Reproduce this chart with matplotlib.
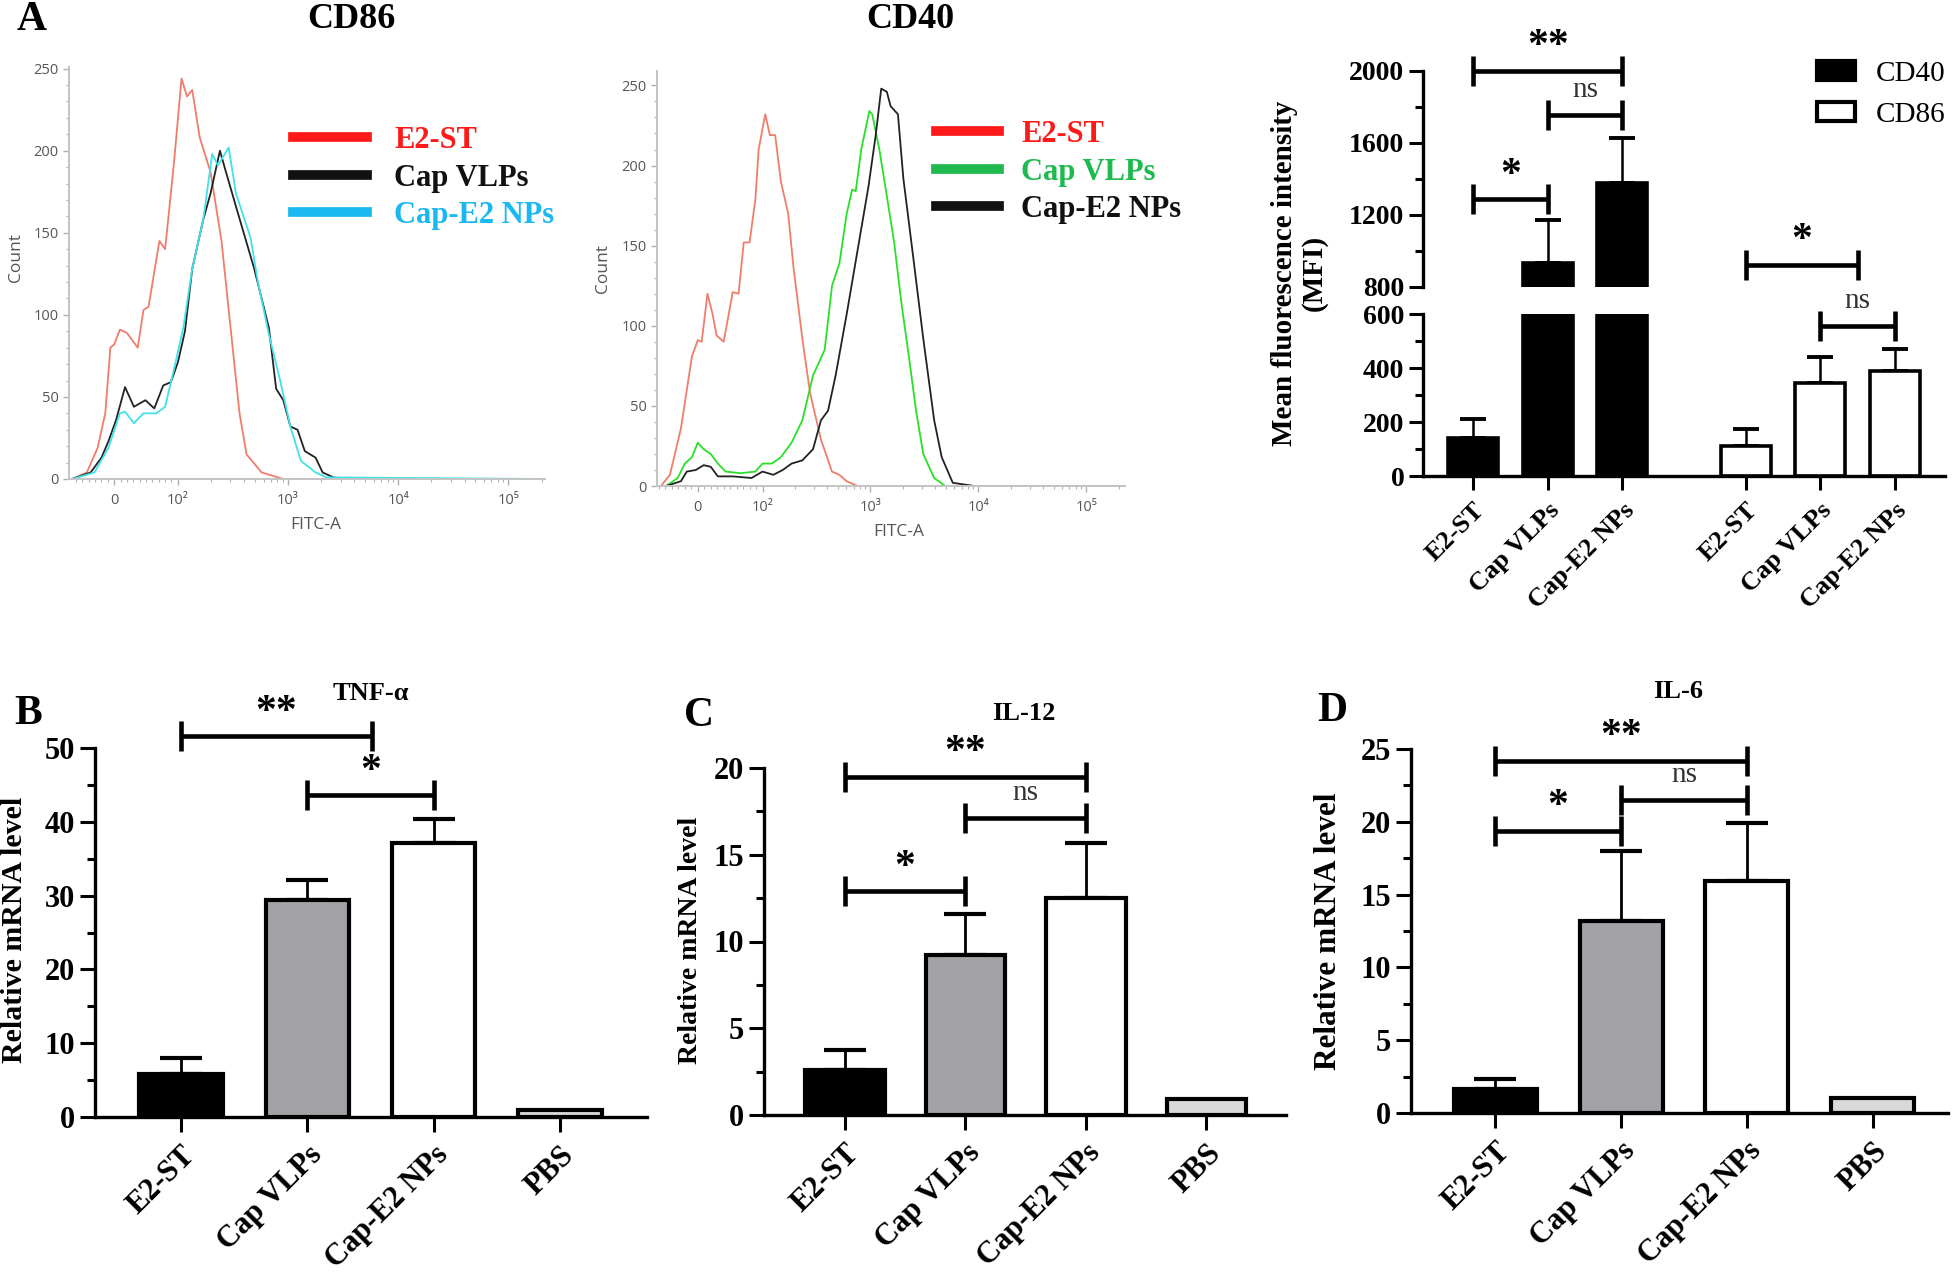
import numpy as np
import matplotlib
matplotlib.use('Agg')
import matplotlib.pyplot as plt
from matplotlib.lines import Line2D
from matplotlib.patches import Patch
from matplotlib.ticker import FixedLocator

plt.rcParams['font.family'] = 'Liberation Serif'

W, H = 1960, 1272

# ---------------- data ----------------
# flow histograms: FITC-A value, count
cd86_e2st_x = [-66, -43, -26, -14, -6, 0, 9, 20, 37, 46, 54, 71, 80, 94, 108, 121, 135, 158, 198,
               249, 312, 363, 420, 576, 906, 215000]
cd86_e2st_y = [0, 4, 19, 40, 80, 82, 91, 89, 80, 103, 105, 145, 140, 193, 244, 233, 237, 208, 187,
               145, 82, 40, 15, 4, 0, 0]
cd86_vlp_x = [-66, -37, -20, -9, 3, 17, 31, 49, 63, 77, 89, 100, 116, 135, 170, 198, 241, 268, 337,
              494, 671, 780, 906, 1050, 1220, 1420, 1780, 2060, 2580, 3480, 215000]
cd86_vlp_y = [0, 4, 13, 23, 36, 56, 44, 48, 43, 57, 59, 71, 90, 128, 158, 174, 200, 189, 166,
              128, 92, 55, 48, 32, 30, 17, 13, 4, 1, 0, 0]
cd86_np_x = [-66, -31, -9, 9, 17, 31, 46, 66, 80, 94, 112, 135, 170, 205, 231, 289, 337, 457, 533,
             671, 842, 1050, 1310, 1780, 2230, 215000]
cd86_np_y = [0, 4, 19, 40, 41, 34, 40, 40, 44, 67, 92, 128, 158, 198, 191, 202, 174, 147, 120,
             88, 61, 32, 11, 4, 1, 0]

cd40_e2st_x = [-57, -43, -26, -9, 0, 6, 15, 23, 29, 40, 54, 63, 71, 80, 89, 94, 106, 117, 131, 148,
               173, 194, 236, 276, 348, 440, 515, 602, 760, 229000]
cd40_e2st_y = [0, 7, 36, 81, 91, 90, 120, 107, 94, 90, 121, 120, 152, 152, 179, 210, 232, 219, 219, 190,
               170, 136, 90, 58, 29, 9, 7, 3, 0, 0]
cd40_vlp_x = [-49, -31, -20, -9, 0, 9, 20, 31, 43, 66, 89, 100, 122, 148, 186, 234, 294, 377, 441, 516,
              603, 677, 731, 822, 978, 1040, 1210, 1420, 1660, 1940, 2270, 2650, 3090, 3900, 4940, 229000]
cd40_vlp_y = [0, 5, 14, 18, 27, 23, 20, 14, 9, 8, 9, 14, 14, 18, 27, 41, 69, 85, 125, 139,
              170, 185, 184, 210, 234, 232, 210, 181, 152, 114, 81, 47, 20, 5, 0, 0]
cd40_np_x = [-49, -26, -17, -3, 9, 20, 31, 54, 83, 100, 126, 154, 186, 234, 294, 348, 405, 476, 602, 760,
             960, 1120, 1260, 1420, 1540, 1800, 2020, 2450, 3090, 3900, 4580, 5800, 9200, 229000]
cd40_np_y = [0, 3, 9, 10, 13, 12, 6, 6, 5, 9, 7, 10, 14, 16, 23, 41, 47, 69, 107, 147,
             187, 219, 248, 246, 237, 232, 192, 147, 92, 41, 18, 2, 0, 0]

hist_labels = ['E2-ST', 'Cap VLPs', 'Cap-E2 NPs']

# mean fluorescence intensity
mfi_groups = ['E2-ST', 'Cap VLPs', 'Cap-E2 NPs']
cd40_mfi = [140, 935, 1375]
cd40_err = [70, 235, 250]
cd86_mfi = [110, 345, 390]
cd86_err = [65, 95, 80]

# relative mRNA levels
groups = ['E2-ST', 'Cap VLPs', 'Cap-E2 NPs', 'PBS']
tnf = [5.8, 29.4, 37.1, 1.0]
tnf_err = [2.2, 2.7, 3.3, 0]
il12 = [2.6, 9.2, 12.5, 0.95]
il12_err = [1.15, 2.4, 3.15, 0]
il6 = [1.63, 13.2, 15.9, 1.0]
il6_err = [0.7, 4.8, 4.05, 0]

# significance brackets: (from, to, height, label)
mfi_sig_hi = [(0, 2, 2000, '**'), (1, 2, 1754, 'ns'), (0, 1, 1287, '*'), (3.65, 5.15, 924, '*')]
mfi_sig_lo = [(4.65, 5.65, 556, 'ns')]
tnf_sig = [(0, 1.51, 51.6, '**'), (1, 2, 43.6, '*')]
il12_sig = [(0, 2, 19.5, '**'), (1, 2, 17.1, 'ns'), (0, 1, 12.9, '*')]
il6_sig = [(0, 2, 24.2, '**'), (1, 2, 21.5, 'ns'), (0, 1, 19.4, '*')]

fig = plt.figure(figsize=(W / 100, H / 100), dpi=100)


def px_axes(l, t, r, b):
    return fig.add_axes([l / W, 1 - b / H, (r - l) / W, (b - t) / H])


def ftext(x, y, s, **kw):
    fig.text(x / W, 1 - y / H, s, **kw)


SANS = ['Open Sans', 'DejaVu Sans']


def flow_hist(ax, curves, colors, xlim, linscale, top):
    for (x, y), c in zip(curves, colors):
        ax.plot(x, y, color=c, lw=1.3)
    ax.set_xscale('symlog', linthresh=100, linscale=linscale)
    ax.set_xlim(xlim)
    ax.set_ylim(0, top)
    ax.set_xticks([0, 100, 1000, 10000, 100000])
    ax.set_xticklabels(['0', '10²', '10³', '10⁴', '10⁵'])
    minor = [v for v in range(-60, 100, 10) if v != 0]
    minor += [k * 10 ** e for e in (2, 3, 4, 5) for k in range(2, 10)]
    ax.xaxis.set_minor_locator(FixedLocator([m for m in minor if xlim[0] < m < xlim[1]]))
    ax.set_yticks([0, 50, 100, 150, 200, 250])
    ax.yaxis.set_minor_locator(FixedLocator(range(10, 260, 10)))
    for s in ('top', 'right'):
        ax.spines[s].set_visible(False)
    for s in ('left', 'bottom'):
        ax.spines[s].set_color('#c4c4c4')
        ax.spines[s].set_linewidth(1.4)
    ax.tick_params(which='both', colors='#b0b0b0', labelcolor='#555555', labelsize=10.5)
    ax.tick_params(which='major', length=4, width=1)
    ax.tick_params(which='minor', length=2.5, width=0.8)
    ax.tick_params(axis='x', pad=6)
    for lab in ax.get_xticklabels() + ax.get_yticklabels():
        lab.set_family(SANS)


def hist_legend(x, y, colors, hlen, tpad):
    hs = [Line2D([], [], color=c, lw=7) for c in colors]
    leg = fig.legend(hs, hist_labels, loc='upper left', bbox_to_anchor=(x / W, 1 - y / H),
                     frameon=False, handlelength=hlen, handletextpad=tpad, labelspacing=0.28,
                     borderpad=0, borderaxespad=0,
                     prop={'family': 'Liberation Serif', 'weight': 'bold', 'size': 22})
    for t, c in zip(leg.get_texts(), colors):
        t.set_color(c)


def brackets(ax, sig, half):
    for x1, x2, y, lab in sig:
        kw = dict(color='black', lw=3.3, clip_on=False, solid_capstyle='butt')
        ax.plot([x1, x2], [y, y], **kw)
        ax.plot([x1, x1], [y - half, y + half], **kw)
        ax.plot([x2, x2], [y - half, y + half], **kw)
        if lab == 'ns':
            tk = dict(fontsize=21, color='#333333')
            off = 18
        else:
            tk = dict(fontsize=30, fontweight='bold')
            off = 17
        ax.annotate(lab, xy=((x1 + x2) / 2, y), xytext=(0, off), textcoords='offset points',
                    ha='center', va='center', annotation_clip=False, **tk)


def bar_axes_style(ax, labsize, major_len=11):
    for s in ('top', 'right'):
        ax.spines[s].set_visible(False)
    for s in ('left', 'bottom'):
        ax.spines[s].set_linewidth(2.4)
    ax.tick_params(which='major', direction='out', length=major_len, width=2.2, labelsize=labsize)
    ax.tick_params(which='minor', direction='out', length=6, width=2.2)
    for lab in ax.get_yticklabels():
        lab.set_fontweight('bold')


# ---------------- panel A: histograms ----------------
ax86 = px_axes(69, 67, 545, 479)
flow_hist(ax86, [(cd86_e2st_x, cd86_e2st_y), (cd86_vlp_x, cd86_vlp_y), (cd86_np_x, cd86_np_y)],
          ['#f07c6c', '#222222', '#3fe3e8'], (-71, 215000), 0.52, 251)
hist_legend(293, 126, ['#ff1a1a', '#111111', '#19b8f0'], 2.42, 0.9)
ftext(16, 258, 'Count', rotation=90, ha='center', va='center', fontsize=12.5, color='#555555', family=SANS)
ftext(316, 525, 'FITC-A', ha='center', va='center', fontsize=12.5, color='#555555', family=SANS)

ax40 = px_axes(657, 71, 1125, 486)
flow_hist(ax40, [(cd40_e2st_x, cd40_e2st_y), (cd40_vlp_x, cd40_vlp_y), (cd40_np_x, cd40_np_y)],
          ['#f07c6c', '#28e028', '#222222'], (-63, 229000), 0.54, 259)
hist_legend(936, 120, ['#ff1a1a', '#1fba4f', '#111111'], 2.06, 0.72)
ftext(603, 268, 'Count', rotation=90, ha='center', va='center', fontsize=12.5, color='#555555', family=SANS)
ftext(899, 532, 'FITC-A', ha='center', va='center', fontsize=12.5, color='#555555', family=SANS)

ftext(32, 20, 'A', ha='center', va='center', fontsize=30, fontweight='bold')
ftext(351, 20, 'CD86', ha='center', va='center', fontsize=26, fontweight='bold')
ftext(910, 20, 'CD40', ha='center', va='center', fontsize=26, fontweight='bold')

# ---------------- panel A: MFI broken-axis bars ----------------
pos40 = np.array([0, 1, 2])
pos86 = pos40 + 3.65
ax_lo = px_axes(1423, 314, 1945, 476)
ax_hi = px_axes(1423, 71, 1945, 287)
for ax in (ax_lo, ax_hi):
    ax.bar(pos40, cd40_mfi, width=0.67, color='black', edgecolor='black', lw=2.6, zorder=2)
    ax.bar(pos86, cd86_mfi, width=0.67, color='white', edgecolor='black', lw=2.6, zorder=2)
    ax.errorbar(pos40, cd40_mfi, yerr=[np.zeros(3), cd40_err], fmt='none', ecolor='black',
                elinewidth=1.8, capsize=9.5, capthick=2.8, zorder=1)
    ax.errorbar(pos86, cd86_mfi, yerr=[np.zeros(3), cd86_err], fmt='none', ecolor='black',
                elinewidth=1.8, capsize=9.5, capthick=2.8, zorder=1)
    ax.set_xlim(-0.67, 6.32)
    bar_axes_style(ax, 20, major_len=10)
ax_lo.set_ylim(0, 600)
ax_lo.set_yticks([0, 200, 400, 600])
ax_lo.yaxis.set_minor_locator(FixedLocator([100, 300, 500]))
ax_hi.set_ylim(800, 2000)
ax_hi.set_yticks([800, 1200, 1600, 2000])
ax_hi.yaxis.set_minor_locator(FixedLocator([1000, 1400, 1800]))
ax_hi.spines['bottom'].set_visible(False)
ax_hi.set_xticks([])
for ax in (ax_lo, ax_hi):
    for lab in ax.get_yticklabels():
        lab.set_fontweight('bold')
ax_lo.set_xticks(np.concatenate([pos40, pos86]))
ax_lo.set_xticklabels(mfi_groups * 2, rotation=45, ha='right', rotation_mode='anchor',
                      fontweight='bold', fontsize=19)
ax_lo.tick_params(axis='x', pad=6)
brackets(ax_hi, mfi_sig_hi, 83)
brackets(ax_lo, mfi_sig_lo, 56)
ftext(1299, 273, 'Mean fluorescence intensity\n(MFI)', rotation=90, ha='center', va='center',
      fontsize=21, fontweight='bold', linespacing=1.12)
fig.legend([Patch(facecolor='black', edgecolor='black', lw=3),
            Patch(facecolor='white', edgecolor='black', lw=3)], ['CD40', 'CD86'],
           loc='upper left', bbox_to_anchor=(1817 / W, 1 - 61 / H), frameon=False,
           handlelength=1.3, handleheight=0.62, handletextpad=0.72, labelspacing=0.5,
           borderpad=0, borderaxespad=0, prop={'family': 'Liberation Serif', 'size': 21})

# ---------------- panels B, C, D: mRNA bars ----------------
fills = ['black', '#a3a3a7', 'white', '#d9d9d9']


def mrna_panel(box, xlim, vals, errs, top, major, minor, sig, half):
    ax = px_axes(*box)
    x = np.arange(len(groups))
    ax.bar(x, vals, width=0.66, color=fills, edgecolor='black', lw=3, zorder=2)
    ax.errorbar(x[:3], vals[:3], yerr=[np.zeros(3), errs[:3]], fmt='none', ecolor='black',
                elinewidth=2, capsize=15, capthick=3, zorder=1)
    ax.set_xlim(xlim)
    ax.set_ylim(0, top)
    ax.set_yticks(major)
    ax.yaxis.set_minor_locator(FixedLocator(minor))
    ax.set_xticks(x)
    ax.set_xticklabels(groups, rotation=45, ha='right', rotation_mode='anchor',
                       fontweight='bold', fontsize=19.5)
    bar_axes_style(ax, 22)
    ax.tick_params(axis='x', pad=6)
    brackets(ax, sig, half)
    return ax


mrna_panel((95, 748, 647, 1117), (-0.68, 3.69), tnf, tnf_err, 50, [0, 10, 20, 30, 40, 50],
           [5, 15, 25, 35, 45], tnf_sig, 2.0)
mrna_panel((764, 768, 1286, 1115), (-0.67, 3.66), il12, il12_err, 20, [0, 5, 10, 15, 20],
           [2.5, 7.5, 12.5, 17.5], il12_sig, 0.86)
mrna_panel((1411, 749, 1948, 1113), (-0.67, 3.6), il6, il6_err, 25, [0, 5, 10, 15, 20, 25],
           [2.5, 7.5, 12.5, 17.5, 22.5], il6_sig, 1.03)

for x, y, fs in [(15, 930, 21.5), (690, 940, 20), (1328, 931, 22.5)]:
    ftext(x, y, 'Relative mRNA level', rotation=90, ha='center', va='center',
          fontsize=fs, fontweight='bold')
ftext(371, 693, 'TNF-α', ha='center', va='center', fontsize=19, fontweight='bold')
ftext(1024, 714, 'IL-12', ha='center', va='center', fontsize=19, fontweight='bold')
ftext(1678, 691, 'IL-6', ha='center', va='center', fontsize=19, fontweight='bold')
ftext(28, 714, 'B', ha='center', va='center', fontsize=30, fontweight='bold')
ftext(699, 716, 'C', ha='center', va='center', fontsize=30, fontweight='bold')
ftext(1332, 711, 'D', ha='center', va='center', fontsize=30, fontweight='bold')

fig.savefig('out.png', dpi=100)
